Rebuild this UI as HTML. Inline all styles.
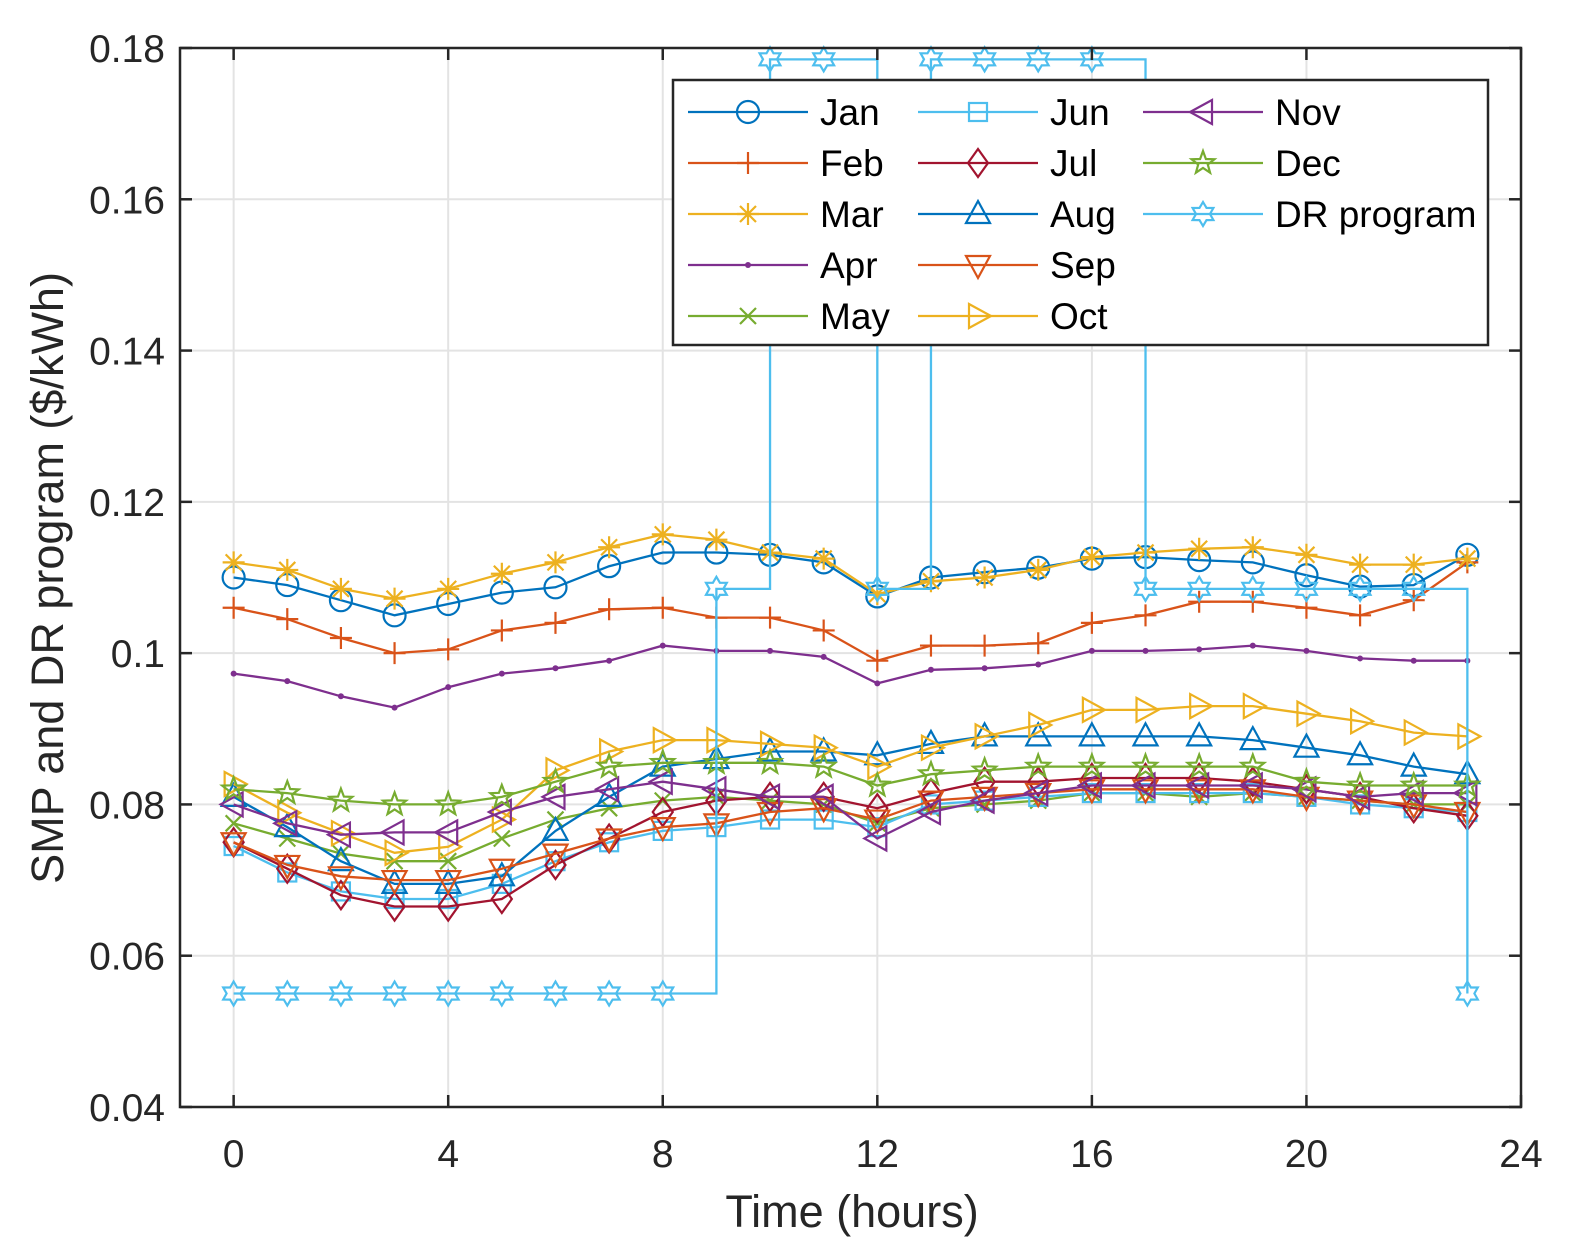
<!DOCTYPE html>
<html><head><meta charset="utf-8"><style>
body{margin:0;background:#fff}
svg{display:block;font-family:"Liberation Sans",Arial,sans-serif}
</style></head><body>
<svg id="chart" width="1571" height="1256" viewBox="0 0 1571 1256" xmlns="http://www.w3.org/2000/svg">
<rect width="1571" height="1256" fill="#fff"/>
<g id="grid"></g>
<g id="series"></g>
<g id="axes"></g>
<g id="legend"></g>
</svg>
<script>
const hours = [0,1,2,3,4,5,6,7,8,9,10,11,12,13,14,15,16,17,18,19,20,21,22,23];
const xTicks = [0,4,8,12,16,20,24];
const yTicks = [0.04,0.06,0.08,0.1,0.12,0.14,0.16,0.18];
const yTickLabels = ["0.04","0.06","0.08","0.1","0.12","0.14","0.16","0.18"];
const seriesNames = ["Jan","Feb","Mar","Apr","May","Jun","Jul","Aug","Sep","Oct","Nov","Dec","DR program"];
const jan = [0.110,0.109,0.107,0.105,0.1065,0.108,0.1087,0.1115,0.1133,0.1133,0.113,0.112,0.1075,0.110,0.1107,0.1113,0.1125,0.1127,0.1123,0.112,0.1103,0.1088,0.109,0.113];
const feb = [0.106,0.1045,0.102,0.100,0.1005,0.103,0.104,0.1058,0.106,0.1047,0.1047,0.103,0.099,0.101,0.101,0.1013,0.104,0.105,0.1068,0.1068,0.106,0.105,0.107,0.112];
const mar = [0.112,0.111,0.1085,0.1072,0.1085,0.1105,0.112,0.114,0.1157,0.115,0.1133,0.1125,0.1078,0.1095,0.110,0.111,0.1127,0.1133,0.1138,0.114,0.113,0.1117,0.1117,0.1125];
const apr = [0.0973,0.0963,0.0943,0.0928,0.0955,0.0973,0.098,0.099,0.101,0.1003,0.1003,0.0995,0.096,0.0978,0.098,0.0985,0.1003,0.1003,0.1005,0.101,0.1003,0.0993,0.099,0.099];
const may = [0.0775,0.0755,0.0735,0.0725,0.0725,0.0755,0.078,0.0795,0.0805,0.081,0.0805,0.080,0.0775,0.0795,0.080,0.0805,0.0815,0.0815,0.081,0.0815,0.081,0.0805,0.080,0.080];
const jun = [0.0745,0.071,0.0685,0.0675,0.0675,0.0695,0.0725,0.075,0.0765,0.077,0.078,0.078,0.077,0.080,0.0805,0.081,0.0815,0.0815,0.0815,0.0815,0.081,0.080,0.0795,0.079];
const jul = [0.075,0.0715,0.068,0.0665,0.0665,0.0675,0.072,0.0755,0.079,0.0805,0.081,0.081,0.0795,0.0815,0.083,0.083,0.0835,0.0835,0.0835,0.083,0.082,0.081,0.0795,0.0785];
const aug = [0.081,0.077,0.0725,0.0695,0.0695,0.0705,0.0765,0.081,0.085,0.086,0.087,0.087,0.0865,0.088,0.089,0.089,0.089,0.089,0.089,0.0885,0.0875,0.0865,0.085,0.084];
const sep = [0.075,0.072,0.0705,0.070,0.070,0.0715,0.0735,0.0755,0.077,0.0775,0.079,0.0795,0.078,0.0805,0.081,0.0815,0.082,0.082,0.082,0.082,0.081,0.0805,0.080,0.079];
const oct = [0.0827,0.0789,0.0762,0.0736,0.0744,0.078,0.0845,0.087,0.0885,0.0885,0.088,0.0875,0.085,0.0875,0.089,0.0905,0.0925,0.0925,0.093,0.093,0.092,0.091,0.0895,0.089];
const nov = [0.080,0.0775,0.076,0.0763,0.0763,0.079,0.081,0.082,0.083,0.082,0.081,0.081,0.0755,0.079,0.0805,0.0815,0.0825,0.0825,0.0825,0.0825,0.082,0.081,0.0815,0.0815];
const dec = [0.082,0.0815,0.0805,0.080,0.080,0.081,0.083,0.085,0.0855,0.0855,0.0855,0.085,0.0825,0.084,0.0845,0.085,0.085,0.085,0.085,0.085,0.083,0.0825,0.0825,0.0825];
const dr = [0.055,0.055,0.055,0.055,0.055,0.055,0.055,0.055,0.055,0.1085,0.1785,0.1785,0.1085,0.1785,0.1785,0.1785,0.1785,0.1085,0.1085,0.1085,0.1085,0.1085,0.1085,0.055];

const NS="http://www.w3.org/2000/svg";
const L=180,R=1521,T=48,B=1107,XMIN=-1,XMAX=24,YMIN=0.04,YMAX=0.18;
const xs=v=>L+(v-XMIN)/(XMAX-XMIN)*(R-L);
const ys=v=>B-(v-YMIN)/(YMAX-YMIN)*(B-T);
function mk(tag,attrs,parent){const e=document.createElementNS(NS,tag);for(const k in attrs)e.setAttribute(k,attrs[k]);parent.appendChild(e);return e;}
const grid=document.getElementById('grid'),axes=document.getElementById('axes'),ser=document.getElementById('series'),leg=document.getElementById('legend');

xTicks.forEach(t=>{
  const g=mk('line',{x1:xs(t),x2:xs(t),y1:T,y2:B,stroke:'#e3e3e3','stroke-width':2},grid);
  
  
  const tx=mk('text',{x:xs(t),y:1167,'text-anchor':'middle','font-size':39,fill:'#262626'},axes);
  tx.textContent=t;
  
  
  mk('line',{x1:xs(t),x2:xs(t),y1:B,y2:B-12,stroke:'#262626','stroke-width':2.5},axes);
  mk('line',{x1:xs(t),x2:xs(t),y1:T,y2:T+12,stroke:'#262626','stroke-width':2.5},axes);
});
yTicks.forEach((t,i)=>{
  const g=mk('line',{x1:L,x2:R,y1:ys(t),y2:ys(t),stroke:'#e3e3e3','stroke-width':2},grid);
  
  
  const tx=mk('text',{x:165,y:ys(t)+14,'text-anchor':'end','font-size':39,fill:'#262626'},axes);
  tx.textContent=yTickLabels[i];
  
  
  mk('line',{x1:L,x2:L+12,y1:ys(t),y2:ys(t),stroke:'#262626','stroke-width':2.5},axes);
  mk('line',{x1:R,x2:R-12,y1:ys(t),y2:ys(t),stroke:'#262626','stroke-width':2.5},axes);
});
const frame=mk('rect',{x:L,y:T,width:R-L,height:B-T,fill:'none',stroke:'#262626','stroke-width':2.5},axes);


const xt=mk('text',{x:852,y:1227,'text-anchor':'middle','font-size':45,fill:'#262626'},axes);
xt.textContent='Time (hours)';


const yt=mk('text',{x:0,y:0,'text-anchor':'middle','font-size':45,fill:'#262626',transform:'translate(63,578) rotate(-90)'},axes);
yt.textContent='SMP and DR program ($/kWh)';



function marker(type,x,y,c,parent){
  const s=11,a={fill:'none',stroke:c,'stroke-width':2.2};
  let e;
  switch(type){
    case 'o': e=mk('circle',Object.assign({cx:x,cy:y,r:s},a),parent);break;
    case '+': e=mk('path',Object.assign({d:`M${x-s} ${y}H${x+s}M${x} ${y-s}V${y+s}`},a),parent);break;
    case '*': e=mk('path',Object.assign({d:`M${x-s} ${y}H${x+s}M${x} ${y-s}V${y+s}M${x-8} ${y-8}L${x+8} ${y+8}M${x-8} ${y+8}L${x+8} ${y-8}`},a),parent);break;
    case '.': e=mk('circle',{cx:x,cy:y,r:3,fill:c},parent);break;
    case 'x': e=mk('path',Object.assign({d:`M${x-8} ${y-8}L${x+8} ${y+8}M${x-8} ${y+8}L${x+8} ${y-8}`},a),parent);break;
    case 's': e=mk('rect',Object.assign({x:x-9,y:y-9,width:18,height:18},a),parent);break;
    case 'd': e=mk('path',Object.assign({d:`M${x} ${y-14}L${x+10} ${y}L${x} ${y+14}L${x-10} ${y}Z`},a),parent);break;
    case '^': e=mk('path',Object.assign({d:`M${x} ${y-13}L${x+12} ${y+9}H${x-12}Z`},a),parent);break;
    case 'v': e=mk('path',Object.assign({d:`M${x} ${y+13}L${x+12} ${y-9}H${x-12}Z`},a),parent);break;
    case '>': e=mk('path',Object.assign({d:`M${x+13} ${y}L${x-9} ${y+12}V${y-12}Z`},a),parent);break;
    case '<': e=mk('path',Object.assign({d:`M${x-13} ${y}L${x+9} ${y+12}V${y-12}Z`},a),parent);break;
    case 'p': {let p='';for(let i=0;i<10;i++){const r=i%2?5:12,an=-Math.PI/2+i*Math.PI/5;p+=(i?'L':'M')+(x+r*Math.cos(an)).toFixed(1)+' '+(y+r*Math.sin(an)).toFixed(1);}e=mk('path',Object.assign({d:p+'Z'},a),parent);break;}
    case 'h': {let p='';for(let i=0;i<12;i++){const r=i%2?7:12,an=-Math.PI/2+i*Math.PI/6;p+=(i?'L':'M')+(x+r*Math.cos(an)).toFixed(1)+' '+(y+r*Math.sin(an)).toFixed(1);}e=mk('path',Object.assign({d:p+'Z'},a),parent);break;}
  }
  return e;
}
const C=['#0072BD','#D95319','#EDB120','#7E2F8E','#77AC30','#4DBEEE','#A2142F'];
const defs=[
 [jan,C[0],'o'],[feb,C[1],'+'],[mar,C[2],'*'],[apr,C[3],'.'],[may,C[4],'x'],[jun,C[5],'s'],[jul,C[6],'d'],
 [aug,C[0],'^'],[sep,C[1],'v'],[oct,C[2],'>'],[nov,C[3],'<'],[dec,C[4],'p'],[dr,C[5],'h']
];
defs.forEach((d,i)=>{
  const g=mk('g',{},ser);
  
  
  let p='';
  if(i===12){
    hours.forEach((h,j)=>{ if(j===0)p+=`M${xs(h)} ${ys(d[0][j])}`; else p+=`H${xs(h)}V${ys(d[0][j])}`; });
  } else {
    hours.forEach((h,j)=>{p+=(j?'L':'M')+xs(h).toFixed(1)+' '+ys(d[0][j]).toFixed(1);});
  }
  const ln=mk('path',{d:p,fill:'none',stroke:d[1],'stroke-width':2.3},g);
  
  
  hours.forEach((h,j)=>{
    const m=marker(d[2],xs(h),ys(d[0][j]),d[1],g);
    
    
  });
});

// legend
const lb=mk('rect',{x:673,y:80,width:815,height:265,fill:'#fff',stroke:'#262626','stroke-width':2.5},leg);


const cols=[688,918,1143];
defs.forEach((d,i)=>{
  const col=Math.floor(i/5),row=i%5;
  const x0=cols[col],yy=112+row*51;
  const g=mk('g',{},leg);
  
  
  mk('line',{x1:x0,x2:x0+120,y1:yy,y2:yy,stroke:d[1],'stroke-width':2.3},g);
  marker(d[2],x0+60,yy,d[1],g);
  const t=mk('text',{x:x0+132,y:yy+13,'font-size':37,fill:'#000'},g);
  t.textContent=seriesNames[i];
});
</script>
</body></html>
